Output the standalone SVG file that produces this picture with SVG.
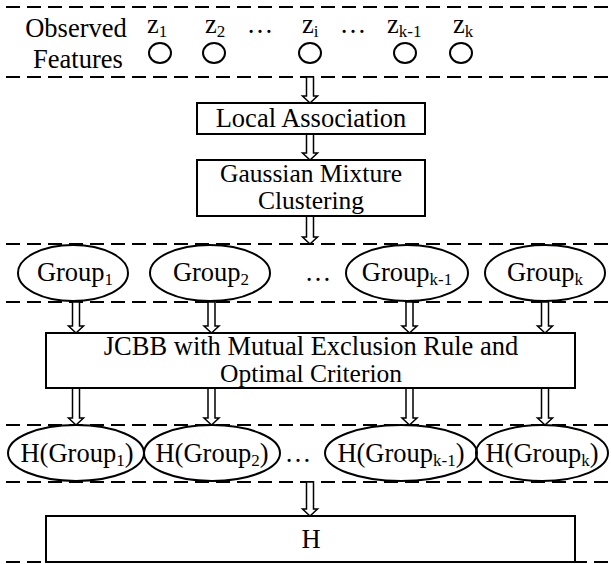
<svg xmlns="http://www.w3.org/2000/svg" width="611" height="564" viewBox="0 0 611 564">
<style>
text{font-family:"Liberation Serif","Times New Roman",serif;font-size:26.5px;fill:#000}
.sub{font-size:17px}
.ml{font-size:25.5px}
.dash{stroke:#000;stroke-width:2;stroke-dasharray:14 7;fill:none}
.box{fill:#fff;stroke:#000;stroke-width:2}
.arr{fill:#fff;stroke:#000;stroke-width:1.5;stroke-linejoin:miter}
.circ{fill:none;stroke:#000;stroke-width:2}
</style>
<g id="separators">
<line class="dash" x1="6" y1="7" x2="611" y2="7"/>
<line class="dash" x1="6" y1="77" x2="611" y2="77"/>
<line class="dash" x1="6" y1="244" x2="611" y2="244"/>
<line class="dash" x1="6" y1="302" x2="611" y2="302"/>
<line class="dash" x1="6" y1="425" x2="611" y2="425"/>
<line class="dash" x1="6" y1="482" x2="611" y2="482"/>
<line class="dash" x1="6" y1="562" x2="611" y2="562"/>
</g>
<g id="connectors">
<path class="arr" d="M306.5,77 V96 H302.5 L310,103 L317.5,96 H313.5 V77 Z"/>
<path class="arr" d="M306.5,134 V153 H302.5 L310,160 L317.5,153 H313.5 V134 Z"/>
<path class="arr" d="M306.5,216 V237 H302.5 L310,244 L317.5,237 H313.5 V216 Z"/>
<path class="arr" d="M72.5,302 V326 H68.5 L76,333 L83.5,326 H79.5 V302 Z"/>
<path class="arr" d="M208,302 V326 H204 L211.5,333 L219,326 H215 V302 Z"/>
<path class="arr" d="M406,302 V326 H402 L409.5,333 L417,326 H413 V302 Z"/>
<path class="arr" d="M541.5,302 V326 H537.5 L545,333 L552.5,326 H548.5 V302 Z"/>
<path class="arr" d="M72.5,388 V418 H68.5 L76,425 L83.5,418 H79.5 V388 Z"/>
<path class="arr" d="M208,388 V418 H204 L211.5,425 L219,418 H215 V388 Z"/>
<path class="arr" d="M406,388 V418 H402 L409.5,425 L417,418 H413 V388 Z"/>
<path class="arr" d="M541.5,388 V418 H537.5 L545,425 L552.5,418 H548.5 V388 Z"/>
<path class="arr" d="M306.5,482 V509 H302.5 L310,516 L317.5,509 H313.5 V482 Z"/>
</g>
<g id="observed">
<text x="76" y="37" text-anchor="middle">Observed</text>
<text x="78" y="68" text-anchor="middle">Features</text>
</g>
<g id="z1"><text x="147" y="33">z<tspan class="sub" dy="4">1</tspan></text><ellipse class="circ" cx="160" cy="53" rx="11" ry="10"/></g>
<g id="z2"><text x="205" y="33">z<tspan class="sub" dy="4">2</tspan></text><ellipse class="circ" cx="214" cy="53" rx="11" ry="10"/></g>
<g id="dots1"><text x="260" y="33" text-anchor="middle">…</text></g>
<g id="zi"><text x="302" y="33">z<tspan class="sub" dy="4">i</tspan></text><ellipse class="circ" cx="310" cy="53" rx="11" ry="10"/></g>
<g id="dots2"><text x="353" y="33" text-anchor="middle">…</text></g>
<g id="zk-1"><text x="387" y="33">z<tspan class="sub" dy="4">k-1</tspan></text><ellipse class="circ" cx="405" cy="53" rx="11" ry="10"/></g>
<g id="zk"><text x="453" y="33">z<tspan class="sub" dy="4">k</tspan></text><ellipse class="circ" cx="461" cy="53" rx="11" ry="10"/></g>
<g id="local">
<rect class="box" x="197" y="103" width="228" height="31"/>
<text x="311" y="127" text-anchor="middle">Local Association</text>
</g>
<g id="gmm">
<rect class="box" x="197" y="160" width="228" height="56"/>
<text class="ml" x="311" y="182" text-anchor="middle">Gaussian Mixture</text>
<text class="ml" x="311" y="209" text-anchor="middle">Clustering</text>
</g>
<g id="group1"><ellipse class="circ" cx="73" cy="273" rx="55" ry="28"/><text x="75" y="281" text-anchor="middle">Group<tspan class="sub" dy="4">1</tspan></text></g>
<g id="group2"><ellipse class="circ" cx="210" cy="273" rx="60" ry="28"/><text x="211" y="281" text-anchor="middle">Group<tspan class="sub" dy="4">2</tspan></text></g>
<g id="dots3"><text x="318" y="281" text-anchor="middle">…</text></g>
<g id="groupk-1"><ellipse class="circ" cx="407" cy="273" rx="61" ry="28"/><text x="407" y="281" text-anchor="middle">Group<tspan class="sub" dy="4">k-1</tspan></text></g>
<g id="groupk"><ellipse class="circ" cx="545" cy="273" rx="60" ry="28"/><text x="545" y="281" text-anchor="middle">Group<tspan class="sub" dy="4">k</tspan></text></g>
<g id="jcbb">
<rect class="box" x="46" y="333" width="529" height="55"/>
<text x="311" y="355" text-anchor="middle">JCBB with Mutual Exclusion Rule and</text>
<text class="ml" x="311" y="382" text-anchor="middle">Optimal Criterion</text>
</g>
<g id="h1"><ellipse class="circ" cx="76" cy="453" rx="68" ry="28"/><text x="77" y="462" text-anchor="middle">H(Group<tspan class="sub" dy="4">1</tspan><tspan dy="-4">)</tspan></text></g>
<g id="h2"><ellipse class="circ" cx="212" cy="453" rx="68" ry="28"/><text x="212" y="462" text-anchor="middle">H(Group<tspan class="sub" dy="4">2</tspan><tspan dy="-4">)</tspan></text></g>
<g id="dots4"><text x="298" y="462" text-anchor="middle">…</text></g>
<g id="hk-1"><ellipse class="circ" cx="401" cy="453" rx="76" ry="28"/><text x="401" y="462" text-anchor="middle">H(Group<tspan class="sub" dy="4">k-1</tspan><tspan dy="-4">)</tspan></text></g>
<g id="hk"><ellipse class="circ" cx="542" cy="453" rx="66" ry="28"/><text x="542" y="462" text-anchor="middle">H(Group<tspan class="sub" dy="4">k</tspan><tspan dy="-4">)</tspan></text></g>
<g id="h">
<rect class="box" x="46" y="516" width="529" height="46"/>
<text x="311" y="548" text-anchor="middle">H</text>
</g>
</svg>
